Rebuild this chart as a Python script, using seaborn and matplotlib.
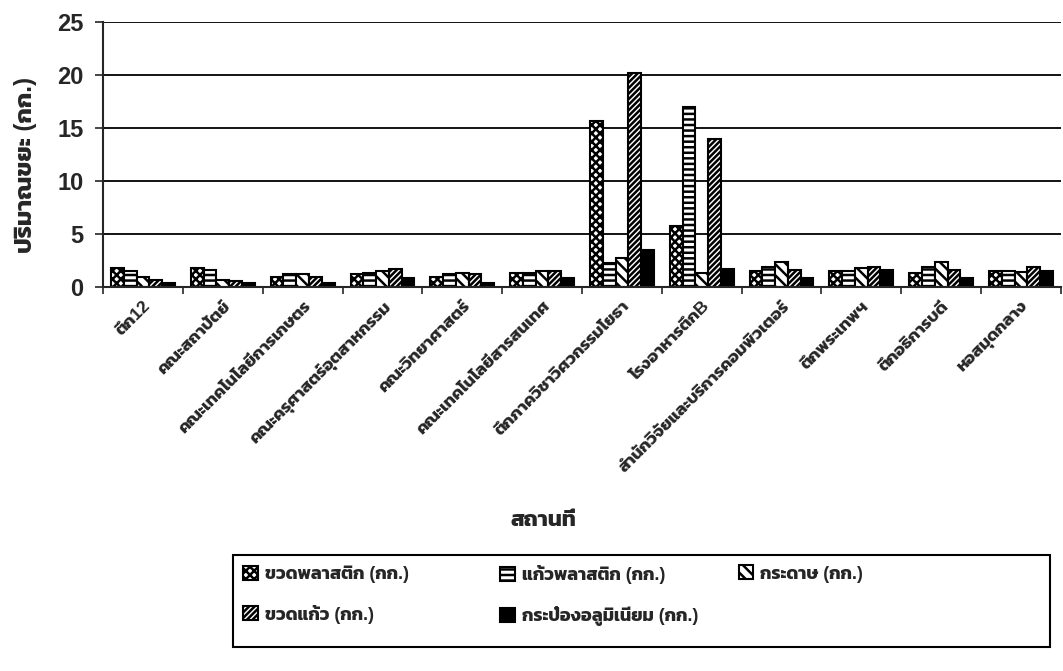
import matplotlib
matplotlib.use("Agg")
import pandas as pd
import matplotlib.pyplot as plt
import seaborn as sns
from matplotlib import font_manager
from matplotlib.patches import Rectangle

# สถานที่ (หมวดหมู่แกน x)
places = ["ตึก12", "คณะสถาปัตย์", "คณะเทคโนโลยีการเกษตร", "คณะครุศาสตร์อุตสาหกรรม",
          "คณะวิทยาศาสตร์", "คณะเทคโนโลยีสารสนเทศ", "ตึกภาควิชาวิศวกรรมโยธา",
          "โรงอาหารตึกB", "สำนักวิจัยและบริการคอมพิวเตอร์", "ตึกพระเทพฯ",
          "ตึกอธิการบดี", "หอสมุดกลาง"]
series_names = ["ขวดพลาสติก (กก.)", "แก้วพลาสติก (กก.)", "กระดาษ (กก.)",
                "ขวดแก้ว (กก.)", "กระป๋องอลูมิเนียม (กก.)"]
plastic_bottle = [1.8, 1.8, 1.0, 1.2, 1.0, 1.3, 15.7, 5.8, 1.5, 1.5, 1.3, 1.5]
plastic_cup = [1.5, 1.6, 1.2, 1.3, 1.2, 1.3, 2.3, 17.0, 1.9, 1.5, 1.9, 1.5]
paper = [1.0, 0.7, 1.2, 1.5, 1.3, 1.5, 2.8, 1.3, 2.4, 1.8, 2.4, 1.4]
glass_bottle = [0.7, 0.6, 1.0, 1.7, 1.2, 1.5, 20.2, 14.0, 1.6, 1.9, 1.6, 1.9]
alu_can = [0.4, 0.4, 0.4, 0.9, 0.4, 0.9, 3.5, 1.7, 0.9, 1.6, 0.9, 1.5]
yticks = [0, 5, 10, 15, 20, 25]

df = pd.DataFrame({"สถานที่": places,
                   series_names[0]: plastic_bottle,
                   series_names[1]: plastic_cup,
                   series_names[2]: paper,
                   series_names[3]: glass_bottle,
                   series_names[4]: alu_can})
df = df.melt(id_vars="สถานที่", var_name="ชนิด", value_name="กก")

sns.set_style("white")
# หาฟอนต์ไทยที่มีในเครื่อง
installed = {f.name for f in font_manager.fontManager.ttflist}
thai_font = "DejaVu Sans"
for cand in ["Kanit", "Prompt", "Mitr", "Noto Sans Thai", "Chakra Petch", "Bai Jamjuree", "Sarabun"]:
    if cand in installed:
        thai_font = cand
        break
plt.rcParams["font.family"] = ["Liberation Sans", thai_font]
plt.rcParams["hatch.linewidth"] = 1.8

fig = plt.figure(figsize=(10.63, 6.71), dpi=100)
ax = fig.add_axes([0.097, 0.572, 0.901, 0.395])

sns.barplot(data=df, x="สถานที่", y="กก", hue="ชนิด", ax=ax,
            palette=["white", "white", "white", "white", "black"],
            edgecolor="black", linewidth=1.5, width=0.8, legend=False)

hatches = ["xxxx", "---", "\\\\\\", "//////", ""]
for cont, h in zip(ax.containers, hatches):
    for p in cont.patches:
        p.set_hatch(h)

ax.set_ylim(0, 25)
ax.set_xlim(-0.5, len(places) - 0.5)
ax.set_yticks(yticks)
ax.yaxis.grid(True, color="black", linewidth=1.3)
ax.set_axisbelow(True)
for s in ["top", "right"]:
    ax.spines[s].set_visible(False)
ax.spines["left"].set_linewidth(1.5)
ax.spines["bottom"].set_linewidth(1.5)

ax.tick_params(axis="y", labelsize=17, length=6, width=1.2, pad=8, direction="out", left=True)
for t in ax.get_yticklabels():
    t.set_fontweight("bold")
ax.set_xticks(range(len(places)))
ax.set_xticks([i - 0.5 for i in range(len(places) + 1)], minor=True)
ax.tick_params(axis="x", which="major", length=0, pad=8)
ax.tick_params(axis="x", which="minor", length=5, width=1.2, direction="out", bottom=True)
ax.set_xticklabels(places, rotation=45, ha="right", rotation_mode="anchor",
                   fontsize=12.5, fontweight="bold")

ax.set_ylabel("ปริมาณขยะ (กก.)", fontsize=17.5, fontweight="bold")
ax.yaxis.set_label_coords(-0.069, 0.46)
ax.set_xlabel("สถานที่", fontsize=16, fontweight="bold")
ax.xaxis.set_label_coords(0.46, -0.84)

# กรอบคำอธิบาย
fig.add_artist(Rectangle((0.219, 0.036), 0.769, 0.137, transform=fig.transFigure,
                         fill=False, edgecolor="black", linewidth=1.5))
conts = list(ax.containers)
# คอลัมน์ของคำอธิบาย (แบบ Excel กว้างเท่ากัน)
columns = [([0, 3], 0.222), ([1, 4], 0.464), ([2], 0.688)]
for idx, x0 in columns:
    leg = fig.legend([conts[i] for i in idx], [series_names[i] for i in idx],
                     loc="upper left", bbox_to_anchor=(x0, 0.168),
                     ncol=1, fontsize=13, frameon=False,
                     handlelength=0.8, handleheight=0.8, handletextpad=0.4,
                     borderaxespad=0.0, labelspacing=1.2)
    for t in leg.get_texts():
        t.set_fontweight("bold")

fig.savefig("out.png", dpi=100)
